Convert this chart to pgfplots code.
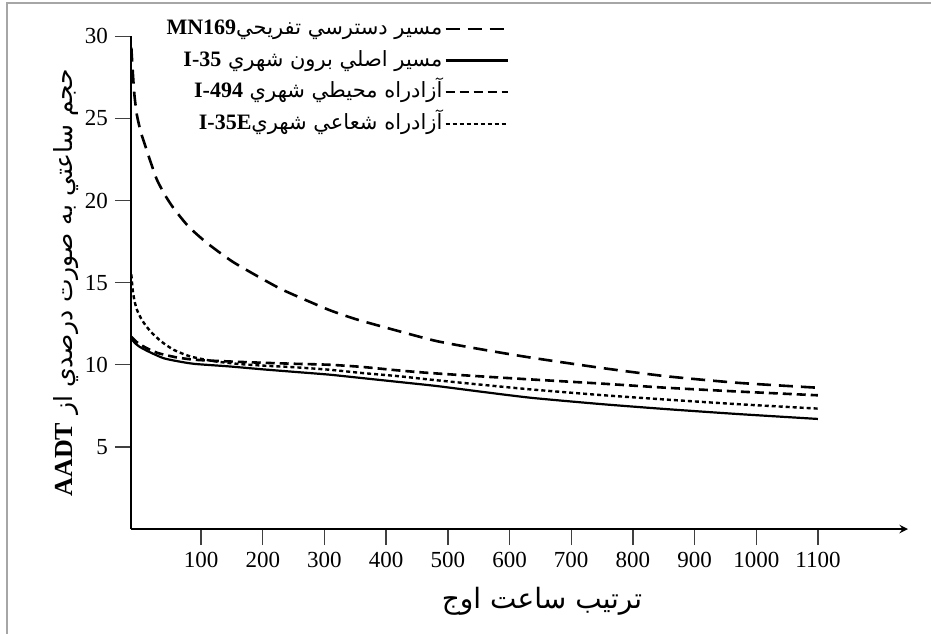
\documentclass[border=0pt]{standalone}
\usepackage{fontspec}
\setmainfont{Liberation Serif}
\newfontfamily\arabicfont[Script=Arabic]{DejaVu Sans}
\usepackage{pgfplots}
\pgfplotsset{compat=1.18}
\TeXXeTstate=1
\newcommand\lb{\rmfamily\bfseries\fontsize{11}{13}\selectfont}

\begin{document}
\begin{tikzpicture}
\path[use as bounding box] (0,0) rectangle (465.5pt,317pt);
\draw[gray!70, line width=0.7pt] (3.5pt,0pt) -- (3.5pt,315.5pt) -- (465.5pt,315.5pt);
\begin{axis}[
  at={(65.5pt,52.5pt)}, anchor=south west,
  scale only axis, width=388.5pt, height=246.4pt,
  xmin=-13.6, xmax=1246, ymin=0, ymax=30,
  axis x line=bottom, axis y line=left,
  axis line style={line width=0.9pt, black},
  x axis line style={-stealth},
  y axis line style={-},
  tick align=outside,
  major tick length=8pt,
  tick style={line width=0.7pt, black!75},
  xtick={100,200,...,1100}, ytick={5,10,...,30},
  ticklabel style={font=\fontsize{11.5}{13}\selectfont},
  /pgf/number format/assume math mode=true,
  /pgf/number format/1000 sep={},
  xlabel={\arabicfont\fontsize{14}{16}\selectfont\beginR ترتيب ساعت اوج\endR},
  xlabel style={at={(axis description cs:0.529,-0.147)}, anchor=center},
  ylabel={\arabicfont\fontsize{12.5}{15}\selectfont\beginR حجم ساعتي به صورت درصدي از \beginL{\lb\fontsize{13}{15}\selectfont AADT}\endL\endR},
  ylabel style={at={(axis description cs:-0.083,0.5)}, anchor=center},
  legend style={draw=none, fill=none, at={(axis description cs:0.487,1.045)}, anchor=north east, inner sep=0pt, row sep=1.3pt, font=\fontsize{10.5}{12}\selectfont, nodes={inner sep=1pt, text height=9pt, text depth=3.5pt}},
  legend cell align=right, legend plot pos=right,
  legend image code/.code={\draw[#1] (2pt,0pt) -- (33pt,0pt);},
]
\addplot[black, line width=1.3pt, dash pattern=on 7pt off 4pt, smooth, tension=0.4] coordinates {
(-13,29.3) (-11,28.0) (-8,26.4) (-4,25.2) (2,24.2) (8,23.5) (15,22.7) (28,21.3) (42,20.3) (56,19.5) (80,18.4) (110,17.4) (150,16.3) (191,15.4) (230,14.6) (272,13.9) (310,13.3) (353,12.75) (421,12.04) (483,11.43) (560,10.9) (637,10.42) (750,9.8) (854,9.3) (970,8.9) (1100,8.6)
};
\addlegendentry{\arabicfont\beginR مسير دسترسي تفريحي\beginL{\lb MN169}\endL\endR}
\addplot[black, line width=1.1pt, smooth, tension=0.4] coordinates {
(-13,11.6) (-8,11.35) (0,11.1) (15,10.8) (39,10.4) (64,10.2) (90,10.05) (145,9.9) (200,9.72) (250,9.57) (307,9.4) (353,9.22) (421,8.95) (483,8.7) (560,8.33) (637,7.98) (750,7.6) (854,7.3) (970,7.0) (1100,6.7)
};
\addlegendentry{\arabicfont\beginR مسير اصلي برون شهري \beginL{\lb I-35}\endL\endR}
\addplot[black, line width=1.3pt, dash pattern=on 4.5pt off 2.5pt, smooth, tension=0.4] coordinates {
(-13,11.7) (-5,11.4) (5,11.15) (15,10.95) (31,10.7) (60,10.45) (91,10.3) (145,10.2) (200,10.12) (250,10.06) (307,10.0) (360,9.87) (421,9.65) (470,9.5) (550,9.3) (637,9.1) (750,8.85) (854,8.6) (970,8.37) (1100,8.14)
};
\addlegendentry{\arabicfont\beginR آزادراه محيطي شهري \beginL{\lb I-494}\endL\endR}
\addplot[black, line width=1.2pt, dash pattern=on 2pt off 1.5pt, smooth, tension=0.4] coordinates {
(-13,15.5) (-11,14.6) (-8,13.9) (-4,13.35) (3,12.8) (10,12.4) (20,11.95) (36,11.4) (56,10.9) (83,10.5) (120,10.22) (160,10.05) (199,9.95) (250,9.85) (307,9.7) (360,9.5) (421,9.3) (470,9.1) (550,8.8) (637,8.49) (750,8.15) (854,7.88) (970,7.6) (1100,7.33)
};
\addlegendentry{\arabicfont\beginR آزادراه شعاعي شهري\beginL{\lb I-35E}\endL\endR}
\end{axis}
\end{tikzpicture}
\end{document}
